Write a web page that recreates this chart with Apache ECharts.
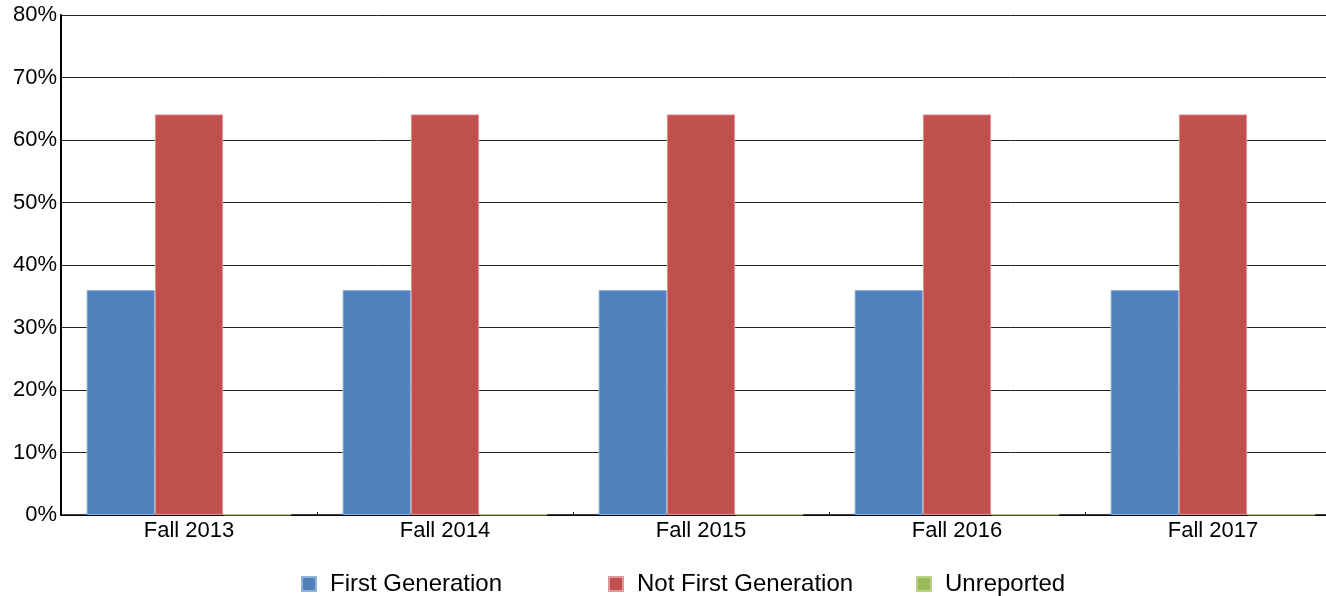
<!DOCTYPE html>
<html lang="en">
<head>
    <meta charset="utf-8">
    <title>First Generation</title>
    <script src="https://cdn.jsdelivr.net/npm/echarts@6/dist/echarts.min.js"></script>
    <style>
        html, body { height: 100%; margin: 0; background: #fff; }
    </style>
</head>
<body>
    <div id="main" style="width:1326px;height:596px;"></div>
    <script>
        var terms = ['Fall 2013', 'Fall 2014', 'Fall 2015', 'Fall 2016', 'Fall 2017'];
        var firstGen = [36, 36, 36, 36, 36];
        var notFirstGen = [64.1, 64.1, 64.1, 64.1, 64.1];
        var unreported = [0.1, 0.1, 0.1, 0.1, 0.1];
        var seriesNames = ['First Generation', 'Not First Generation', 'Unreported'];

        var chart = echarts.init(document.getElementById('main'));
        var font = 'Liberation Sans, Arial, sans-serif';

        function bar(name, data, color, border) {
            return {
                name: name,
                type: 'bar',
                data: data,
                barGap: 0,
                barCategoryGap: '20%',
                itemStyle: { color: color, borderColor: border, borderWidth: 1 }
            };
        }

        // one legend per item so they sit at fixed spots
        var legendLeft = [301, 608, 916];
        var legends = seriesNames.map(function (n, i) {
            return {
                left: legendLeft[i],
                top: 572,
                padding: 0,
                itemWidth: 14,
                itemHeight: 14,
                icon: 'rect',
                textStyle: { fontSize: 24, color: '#000', fontFamily: font, padding: [0, 0, 0, 9] },
                data: [n]
            };
        });

        var option = {
            animation: false,
            textStyle: { fontFamily: font },
            // plot runs a little past the right edge, like the original
            grid: { left: 61, right: -15, top: 15, bottom: 81, outerBoundsMode: 'none' },
            legend: legends,
            xAxis: {
                type: 'category',
                data: terms,
                axisLine: { lineStyle: { color: '#000', width: 1.5 } },
                axisTick: { show: true, inside: true, length: 3, lineStyle: { color: '#000' } },
                axisLabel: { fontSize: 22, color: '#000', margin: 5, fontFamily: font }
            },
            yAxis: {
                type: 'value',
                min: 0,
                max: 80,
                interval: 10,
                axisLine: { show: true, lineStyle: { color: '#000', width: 2 } },
                axisTick: { show: false },
                splitLine: { lineStyle: { color: '#222', width: 1 } },
                axisLabel: { fontSize: 22, color: '#000', margin: 4, formatter: '{value}%', fontFamily: font }
            },
            series: [
                bar(seriesNames[0], firstGen, '#4f81bd', '#8fb1da'),
                bar(seriesNames[1], notFirstGen, '#c0504d', '#dc9896'),
                bar(seriesNames[2], unreported, '#9bbb59', '#b9d28a')
            ]
        };
        chart.setOption(option);
    </script>
</body>
</html>
